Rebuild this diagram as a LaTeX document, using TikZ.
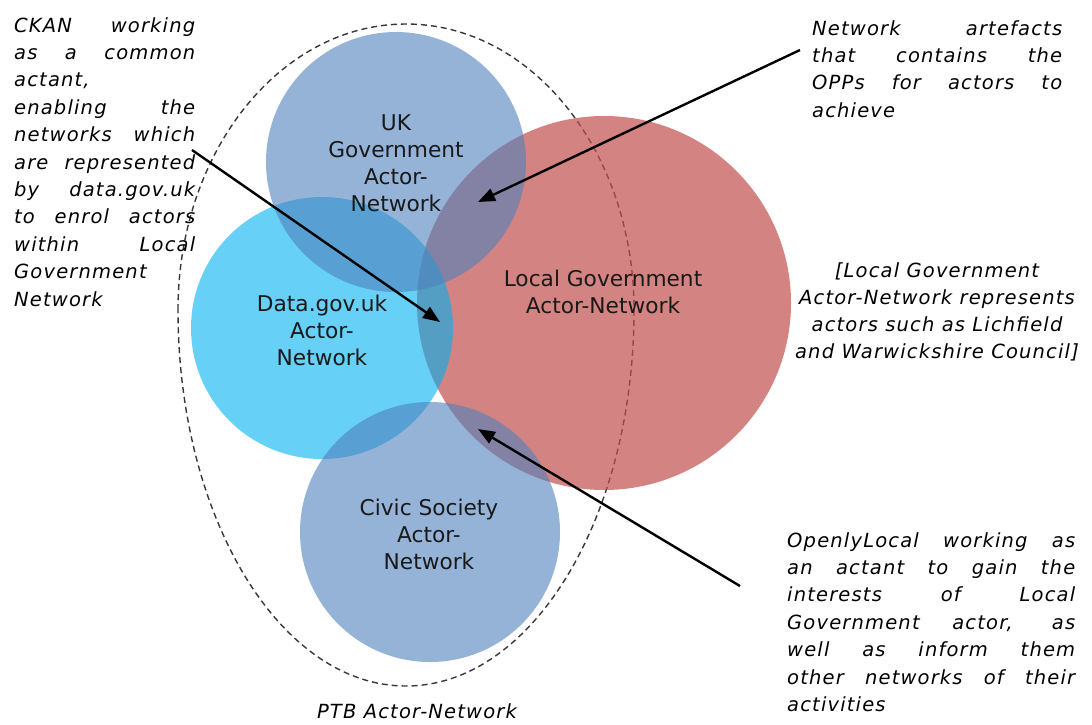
\documentclass[tikz,border=0pt]{standalone}
\usepackage{fontspec}
\setmainfont{DejaVu Sans}
\newfontfamily\annfont[LetterSpace=6]{DejaVu Sans}
\usetikzlibrary{arrows.meta,shapes.geometric}
\definecolor{ukblue}{HTML}{4F81BD}
\definecolor{dgcyan}{HTML}{00B0F0}
\definecolor{lgred}{HTML}{C0504D}
\newcommand{\jl}[2]{\makebox[#1][s]{#2}}
\tikzset{
  netcirc/.style={circle, inner sep=0pt, draw=none},
  circlbl/.style={align=center, inner sep=0pt, font=\fontsize{21.7}{27}\selectfont, text=black!90},
  ann/.style={align=left, inner sep=0pt, font=\annfont\itshape\fontsize{19.5}{27.4}\selectfont, text=black},
  annc/.style={align=center, inner sep=0pt, font=\annfont\itshape\fontsize{19.5}{27}\selectfont, text=black},
  pointer/.style={line width=2.4pt, -{Triangle[length=17pt,width=13pt]}},
  ptbline/.style={draw=black!78, line width=1.4pt, dash pattern=on 6pt off 4pt},
}
\begin{document}
\begin{tikzpicture}[x=1pt,y=-1pt]
\useasboundingbox (0,0) rectangle (1092,724);
% PTB dashed outline (egg-shaped)
\draw[ptbline] (178,310) arc[start angle=180, end angle=360, x radius=228, y radius=286]
  arc[start angle=0, end angle=180, x radius=228, y radius=376] -- cycle;
% circles
\node[netcirc, fill=lgred, fill opacity=0.7, minimum size=374pt] (lg) at (604,303) {};
\node[netcirc, fill=dgcyan, fill opacity=0.6, minimum size=262pt] (dg) at (322,328) {};
\node[netcirc, fill=ukblue, fill opacity=0.6, minimum size=260pt] (uk) at (396,162) {};
\node[netcirc, fill=ukblue, fill opacity=0.6, minimum size=260pt] (cs) at (430,532) {};
% circle labels
\node[circlbl] (uklbl) at (396,163) {UK\\Government\\Actor-\\Network};
\node[circlbl] (dglbl) at (322,330) {Data.gov.uk\\Actor-\\Network};
\node[circlbl] (lglbl) at (603,292) {Local Government\\Actor-Network};
\node[circlbl] (cslbl) at (429,534) {Civic Society\\Actor-\\Network};
% annotations
\node[ann, anchor=north west] (ckan) at (14,17) {%
\jl{181pt}{CKAN working}\\
\jl{181pt}{as a common}\\
actant,\\
\jl{181pt}{enabling the}\\
\jl{181pt}{networks which}\\
\jl{181pt}{are represented}\\
\jl{181pt}{by data.gov.uk}\\
\jl{181pt}{to enrol actors}\\
\jl{181pt}{within Local}\\
Government\\
Network};
\node[ann, anchor=north west] (opp) at (812,20) {%
\jl{250pt}{Network artefacts}\\
\jl{250pt}{that contains the}\\
\jl{250pt}{OPPs for actors to}\\
achieve};
\node[annc, anchor=north] (lgnote) at (937,262) {[Local Government\\Actor-Network represents\\actors such as Lichfield\\and Warwickshire Council]};
\node[ann, anchor=north west] (openly) at (787,532) {%
\jl{288pt}{OpenlyLocal working as}\\
\jl{288pt}{an actant to gain the}\\
\jl{288pt}{interests of Local}\\
\jl{288pt}{Government actor, as}\\
\jl{288pt}{well as inform them}\\
\jl{288pt}{other networks of their}\\
activities};
\node[annc, anchor=base] (ptblbl) at (417,718) {PTB Actor-Network};
% pointers
\coordinate (ckanstart) at (192,150);
\coordinate (ckantip) at (440,322);
\coordinate (oppstart) at (800,50);
\coordinate (opptip) at (478,202);
\coordinate (olstart) at (740,586);
\coordinate (oltip) at (478,429);
\draw[pointer] (ckanstart) -- (ckantip);
\draw[pointer] (oppstart) -- (opptip);
\draw[pointer] (olstart) -- (oltip);
\end{tikzpicture}
\end{document}
